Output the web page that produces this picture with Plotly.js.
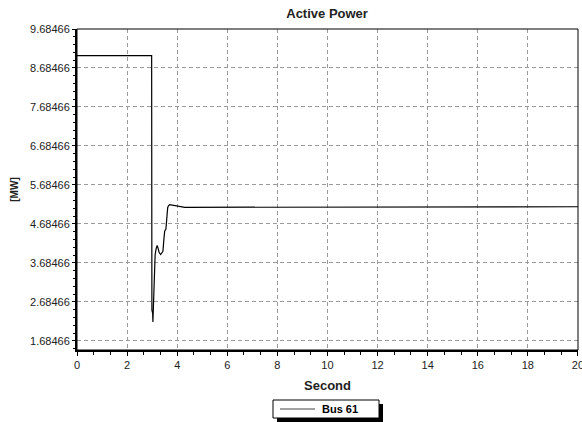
<!DOCTYPE html>
<html><head><meta charset="utf-8">
<script src="https://cdn.plot.ly/plotly-3.0.1.min.js"></script>
<style>body{margin:0;padding:0;background:#fff}#chart{width:582px;height:422px}</style>
</head><body><div id="chart"></div>
<script>
const seriesName = "Bus 61";
const timeSec = [0, 2.98, 2.99, 3.02, 3.03, 3.05, 3.08, 3.12, 3.16, 3.20, 3.24, 3.28, 3.34, 3.40, 3.43, 3.47, 3.50, 3.55, 3.58, 3.62, 3.65, 3.70, 4.30, 7.50, 7.52, 20];
const powerMW = [9.00, 9.00, 2.47, 2.40, 2.17, 2.60, 3.20, 3.90, 4.05, 4.13, 4.05, 3.95, 3.90, 3.95, 3.98, 4.30, 4.50, 4.55, 4.95, 5.10, 5.15, 5.18, 5.11, 5.11, 5.125, 5.125];
const yTickVals = [1.68466, 2.68466, 3.68466, 4.68466, 5.68466, 6.68466, 7.68466, 8.68466, 9.68466];
const xTickVals = [0, 2, 4, 6, 8, 10, 12, 14, 16, 18, 20];

const L = 77, R = 578, T = 29, B = 350, W = 582, H = 422;
const px = v => (v - L) / (R - L);
const py = v => (B - v) / (B - T);

const trace = {
  x: timeSec, y: powerMW, type: 'scatter', mode: 'lines', name: seriesName,
  line: {color: '#000', width: 1.2}
};

// legend box (pixel positions)
const LG = {x0: 273, x1: 379, y0: 400, y1: 418};
const legendShapes = [
  {type: 'rect', xref: 'paper', yref: 'paper', x0: px(LG.x0 + 4), x1: px(LG.x1 + 4), y0: py(LG.y1 + 4), y1: py(LG.y0 + 4),
   line: {width: 0}, fillcolor: '#000'},
  {type: 'rect', xref: 'paper', yref: 'paper', x0: px(LG.x0), x1: px(LG.x1), y0: py(LG.y1), y1: py(LG.y0),
   line: {color: '#000', width: 1}, fillcolor: '#fff'},
  {type: 'line', xref: 'paper', yref: 'paper', x0: px(280), x1: px(315), y0: py(409), y1: py(409),
   line: {color: '#444', width: 1.2}}
];

const layout = {
  width: W, height: H,
  margin: {l: L, r: W - R, t: T, b: H - B, autoexpand: false},
  paper_bgcolor: '#fff', plot_bgcolor: '#fff',
  font: {family: 'Liberation Sans, Arial, sans-serif', size: 11, color: '#222'},
  title: {text: '<b>Active Power</b>', x: 0.562, xanchor: 'center', y: 0.978, yanchor: 'top',
          font: {size: 13, color: '#222'}},
  showlegend: false,
  xaxis: {
    range: [0, 20.001], tickvals: xTickVals, ticktext: xTickVals.map(String),
    ticklabeloverflow: 'allow',
    showline: true, linecolor: '#000', linewidth: 2, automargin: false,
    ticks: 'outside', ticklen: 4, tickcolor: '#000',
    minor: {dtick: 2/3, tick0: 0, ticks: 'outside', ticklen: 3, tickcolor: '#000', showgrid: false},
    showgrid: true, gridcolor: '#9a9a9a', griddash: '4px,3px', gridwidth: 1,
    zeroline: false,
    title: {text: '<b>Second</b>', font: {size: 13, color: '#222'}, standoff: 11}
  },
  yaxis: {
    range: [1.45, 9.68466], tickvals: yTickVals, ticktext: yTickVals.map(v => v.toFixed(5)),
    showline: true, linecolor: '#000', linewidth: 2, automargin: false,
    ticks: 'outside', ticklen: 3, tickcolor: '#000',
    minor: {dtick: 0.2, tick0: 1.68466, ticks: 'outside', ticklen: 2, tickcolor: '#000', showgrid: false},
    showgrid: true, gridcolor: '#9a9a9a', griddash: '4px,3px', gridwidth: 1,
    zeroline: false,
    title: {text: '<b>[MW]</b>', font: {size: 10, color: '#222'}, standoff: 10}
  },
  shapes: [
    {type: 'rect', xref: 'paper', yref: 'paper', x0: 0, x1: 1, y0: 0, y1: 1,
     line: {color: '#000', width: 1}, fillcolor: 'rgba(0,0,0,0)', layer: 'above'}
  ].concat(legendShapes),
  annotations: [
    {xref: 'paper', yref: 'paper', x: px(320), y: py(409), xanchor: 'left', yanchor: 'middle',
     text: '<b>' + seriesName + '</b>', showarrow: false, font: {size: 11, color: '#000'}}
  ]
};

Plotly.newPlot('chart', [trace], layout, {displayModeBar: false, staticPlot: true});
</script></body></html>
